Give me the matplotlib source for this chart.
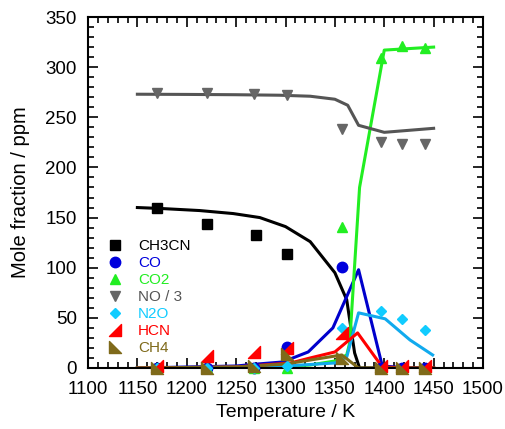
import matplotlib
matplotlib.use("Agg")
import matplotlib.pyplot as plt
from matplotlib.ticker import MultipleLocator
from matplotlib.path import Path

plt.rcParams['font.family'] = ['Liberation Sans', 'DejaVu Sans']

# Experimental temperatures (K)
T_exp = [1170, 1220, 1268, 1302, 1357, 1397, 1418, 1441]
ch3cn_exp_T = [1170, 1221, 1270, 1302]
ch3cn_exp = [160, 144, 133, 114]
co_exp = [0, 0, 0, 21, 101, 0, 0, 0]
co2_exp = [0, 0, 0, 0, 141, 309, 321, 319]
no_exp = [274, 274, 273, 272, 238, 225, 223, 223]
n2o_exp = [0, 0, 0, 2, 40, 57, 49, 38]
hcn_exp = [2, 12, 16, 20, 35, 2, 2, 2]
ch4_exp = [0, 0, 2, 14, 10, 0, 0, 0]

# Model curves
ch3cn_mT = [1150, 1175, 1213, 1247, 1274, 1300, 1325, 1350, 1362, 1370, 1375, 1400, 1450]
ch3cn_m = [160, 159, 157, 154, 150, 141, 126, 95, 68, 15, 0, 0, 0]
co_mT = [1150, 1250, 1272, 1297, 1323, 1348, 1374, 1398, 1425, 1450]
co_m = [0, 2, 4, 6, 16, 40, 98, 2, 0, 0]
co2_mT = [1150, 1250, 1300, 1325, 1350, 1362, 1365, 1375, 1400, 1450]
co2_m = [0, 0.5, 1.5, 3, 7, 13, 25, 180, 317, 320]
no_mT = [1150, 1200, 1250, 1294, 1325, 1350, 1363, 1374, 1400, 1450]
no_m = [273, 272.8, 272.5, 272, 271, 268, 262, 242, 235, 239]
n2o_mT = [1150, 1250, 1300, 1350, 1362, 1374, 1401, 1426, 1449]
n2o_m = [0, 1, 2, 5, 11, 55, 49, 28, 13]
hcn_mT = [1150, 1250, 1305, 1325, 1350, 1373, 1398, 1425, 1450]
hcn_m = [0, 1, 5, 10, 16, 35, 1, 0, 0]
ch4_mT = [1150, 1250, 1300, 1357, 1374, 1400, 1450]
ch4_m = [0, 1, 4, 13, 0, 0, 0]

c_ch3cn = '#000000'
c_co = '#0000CC'
c_co2 = '#22EE22'
c_no = '#555555'
c_n2o = '#11AAEE'
c_hcn = '#FF0000'
c_ch4 = '#7F6A1A'

hcn_marker = Path([(-1, -1), (1, -1), (1, 1), (-1, -1)], [1, 2, 2, 79])
ch4_marker = Path([(-1, 1), (-1, -1), (1, -1), (-1, 1)], [1, 2, 2, 79])

fig = plt.figure(figsize=(5.05, 4.29), dpi=100)
ax = fig.add_axes([88/505, (429-368)/429, (483-88)/505, (368-17)/429])

lw = 2.2
ax.plot(ch3cn_mT, ch3cn_m, color=c_ch3cn, lw=lw, zorder=2)
ax.plot(co_mT, co_m, color=c_co, lw=lw, zorder=2)
ax.plot(co2_mT, co2_m, color=c_co2, lw=lw, zorder=2)
ax.plot(no_mT, no_m, color=c_no, lw=lw, zorder=2)
ax.plot(n2o_mT, n2o_m, color=c_n2o, lw=lw, zorder=2)
ax.plot(hcn_mT, hcn_m, color=c_hcn, lw=lw, zorder=2)
ax.plot(ch4_mT, ch4_m, color=c_ch4, lw=lw, zorder=2)

kw = dict(linestyle='none', clip_on=False, zorder=3)
ax.plot(ch3cn_exp_T, ch3cn_exp, marker='s', ms=7, color=c_ch3cn, label='CH3CN', **kw)
ax.plot(T_exp, co_exp, marker='o', ms=7.5, color='#0000DD', label='CO', **kw)
ax.plot(T_exp, co2_exp, marker='^', ms=6.5, color='#22EE22', label='CO2', **kw)
ax.plot(T_exp, no_exp, marker='v', ms=6.5, color='#666666', label='NO / 3', **kw)
ax.plot(T_exp, n2o_exp, marker='D', ms=5.5, color='#11CCFF', label='N2O', **kw)
ax.plot(T_exp, hcn_exp, marker=hcn_marker, ms=8.5, color=c_hcn, label='HCN', **kw)
ax.plot(T_exp, ch4_exp, marker=ch4_marker, ms=8.5, color=c_ch4, label='CH4', **kw)

ax.set_xlim(1100, 1500)
ax.set_ylim(0, 350)
ax.xaxis.set_major_locator(MultipleLocator(50))
ax.xaxis.set_minor_locator(MultipleLocator(10))
ax.yaxis.set_major_locator(MultipleLocator(50))
ax.yaxis.set_minor_locator(MultipleLocator(10))
ax.tick_params(which='both', direction='in', top=True, right=True, labelsize=13.5, width=1.2)
ax.tick_params(which='major', length=7)
ax.tick_params(which='minor', length=4)
ax.tick_params(axis='x', which='both', pad=9)
ax.tick_params(axis='y', which='both', pad=8)
for s in ax.spines.values():
    s.set_linewidth(1.5)

ax.set_xlabel('Temperature / K', fontsize=14, labelpad=5)
ax.set_ylabel('Mole fraction / ppm', fontsize=14.5, labelpad=11)

leg = ax.legend(loc='upper left', bbox_to_anchor=(0.03, 0.385), frameon=False, fontsize=11,
                handletextpad=0.9, labelspacing=0.2, borderaxespad=0, handlelength=1.2)
for t, c in zip(leg.get_texts(), ['#000000', '#0000DD', '#22EE22', '#555555', '#11CCFF', '#FF0000', c_ch4]):
    t.set_color(c)

fig.savefig('out.png', dpi=100)
